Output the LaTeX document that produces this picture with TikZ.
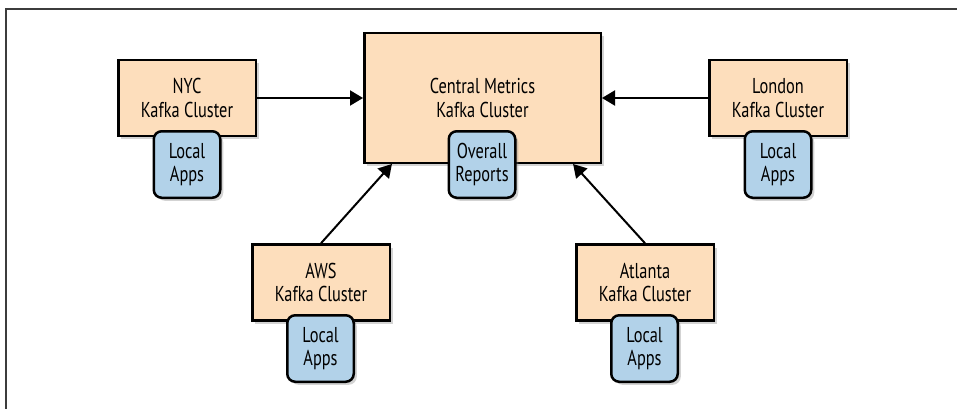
\documentclass[tikz,border=0pt]{standalone}
\usepackage{fontspec}
\setmainfont{PT Sans}[FakeStretch=0.76]
\usetikzlibrary{shadows,arrows.meta,calc}
\definecolor{peach}{RGB}{253,222,188}
\definecolor{appblue}{RGB}{178,210,233}
\definecolor{framegray}{RGB}{60,60,60}
\tikzset{
  cluster/.style={draw=black, fill=peach, line width=2.5pt, minimum width=137.5pt, minimum height=76pt,
    align=center, font=\fontsize{21.5}{23.5}\selectfont, inner sep=0pt,
    drop shadow={opacity=0.35, shadow xshift=3pt, shadow yshift=-3pt}},
  apps/.style={draw=black, fill=appblue, line width=2.5pt, rounded corners=8pt, minimum width=66.5pt, minimum height=66.5pt,
    align=center, font=\fontsize{21.5}{23.5}\selectfont, inner sep=0pt,
    drop shadow={opacity=0.35, shadow xshift=3pt, shadow yshift=-3pt}},
  link/.style={line width=2pt, -{Triangle[length=13pt,width=15pt]}},
  frameline/.style={draw=framegray, line width=1.3pt}
}
\begin{document}
\begin{tikzpicture}[x=1pt,y=-1pt]
\useasboundingbox (0,0) rectangle (957,409);
\coordinate (ftop) at (957,9);
\coordinate (fcorner) at (6,9);
\coordinate (fbot) at (6,409);
\draw[frameline] (ftop) -- (fcorner) -- (fbot);

\node[cluster, minimum width=236.5pt, minimum height=129.5pt, text depth=0pt] (central) at (482.5,98) {Central Metrics\\Kafka Cluster};
\node[cluster] (nyc) at (187,98) {NYC\\Kafka Cluster};
\node[cluster] (london) at (778,98) {London\\Kafka Cluster};
\node[cluster] (aws) at (321,282.5) {AWS\\Kafka Cluster};
\node[cluster] (atlanta) at (645,282.5) {Atlanta\\Kafka Cluster};

\node[apps] (overall) at (482,164.5) {Overall\\Reports};
\node[apps] (nycapps) at (187,164.5) {Local\\Apps};
\node[apps] (londonapps) at (778,164.5) {Local\\Apps};
\node[apps] (awsapps) at (320.5,348.5) {Local\\Apps};
\node[apps] (atlantaapps) at (644.5,348.5) {Local\\Apps};

\draw[link] (nyc.east) -- (central.west);
\draw[link] (london.west) -- (central.east);
\draw[link] (aws.north) -- ($(central.south west)!0.121!(central.south east)$);
\draw[link] (atlanta.north) -- ($(central.south west)!0.879!(central.south east)$);
\end{tikzpicture}
\end{document}
